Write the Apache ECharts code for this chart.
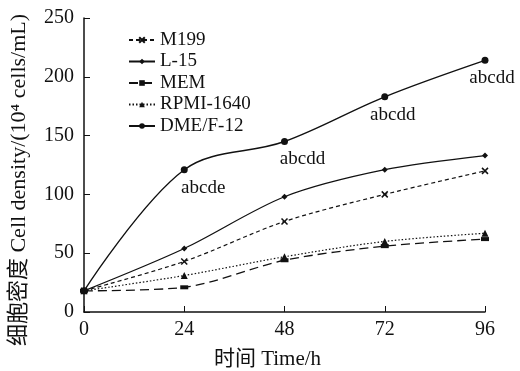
<!DOCTYPE html>
<html>
<head>
<meta charset="utf-8">
<script src="https://cdn.jsdelivr.net/npm/echarts@6/dist/echarts.min.js"></script>
<style>
	html, body { margin: 0; padding: 0; background: #fff; }
	#main { width: 520px; height: 371px; }
</style>
</head>
<body>
<div id="main"></div>
<script>
var hours = [0, 24, 48, 72, 96];
var m199 = [18, 43, 77, 100, 120];
var l15 = [18, 54, 98, 121, 133];
var mem = [18, 21, 44, 56, 62];
var rpmi = [18, 31, 47, 60, 67];
var dme = [18, 121, 145, 183, 214];
var dmeLabels = ['', 'abcde', 'abcdd', 'abcdd', 'abcdd'];

var font = 'Liberation Serif, "Noto Sans CJK SC", serif';
var ink = '#111';

function pairs(ys) {
	var out = [];
	for (var i = 0; i < hours.length; i++) {
		out.push([hours[i], ys[i]]);
	}
	return out;
}

// shift of the letter labels to the right of each point
var labelShift = [0, 19, 18, 8, 7];
var dmeData = [];
for (var i = 0; i < hours.length; i++) {
	dmeData.push({
		value: [hours[i], dme[i]],
		label: {
			show: dmeLabels[i] !== '',
			formatter: dmeLabels[i],
			offset: [labelShift[i], 0]
		}
	});
}

var myChart = echarts.init(document.getElementById('main'));
var option = {
	animation: false,
	textStyle: { fontFamily: font, color: ink },
	grid: { left: 84, right: 35, top: 18, bottom: 59, outerBoundsMode: 'none' },
	legend: {
		orient: 'vertical',
		left: 123,
		top: 25,
		itemWidth: 26,
		itemHeight: 7,
		itemGap: 1.5,
		textStyle: { fontFamily: font, fontSize: 19, color: ink, lineHeight: 20 },
		data: ['M199', 'L-15', 'MEM', 'RPMI-1640', 'DME/F-12']
	},
	xAxis: {
		type: 'value',
		min: 0,
		max: 96,
		interval: 24,
		name: '时间 Time/h',
		nameLocation: 'middle',
		nameGap: 37,
		nameTextStyle: { fontFamily: font, fontSize: 21, color: ink, padding: [0, 34, 0, 0] },
		axisLine: { lineStyle: { color: ink, width: 1.5 } },
		axisTick: { inside: true, length: 6, lineStyle: { color: ink } },
		axisLabel: { fontFamily: font, fontSize: 20, color: ink, margin: 8 },
		splitLine: { show: false }
	},
	yAxis: {
		type: 'value',
		min: 0,
		max: 250,
		interval: 50,
		name: '细胞密度 Cell density/(10⁴ cells/mL)',
		nameLocation: 'middle',
		nameGap: 54,
		nameRotate: 90,
		nameTextStyle: { fontFamily: font, fontSize: 22, color: ink, padding: [0, 30, 0, 0] },
		axisLine: { show: true, lineStyle: { color: ink, width: 1.5 } },
		axisTick: { show: true, inside: true, length: 6, lineStyle: { color: ink } },
		axisLabel: { fontFamily: font, fontSize: 20, color: ink, margin: 10 },
		splitLine: { show: false }
	},
	series: [{
		name: 'M199',
		type: 'line',
		smooth: 0.3,
		data: pairs(m199),
		symbol: 'path://M0,0L10,10M10,0L0,10',
		symbolSize: 6,
		lineStyle: { color: ink, width: 1.2, type: [4, 3] },
		itemStyle: { color: 'none', borderColor: ink, borderWidth: 1.5 }
	}, {
		name: 'L-15',
		type: 'line',
		smooth: 0.3,
		data: pairs(l15),
		symbol: 'diamond',
		symbolSize: 6,
		lineStyle: { color: ink, width: 1.3 },
		itemStyle: { color: ink }
	}, {
		name: 'MEM',
		type: 'line',
		smooth: 0.3,
		data: pairs(mem),
		symbol: 'rect',
		symbolSize: [8, 4],
		lineStyle: { color: ink, width: 1.3, type: [9, 5] },
		itemStyle: { color: ink }
	}, {
		name: 'RPMI-1640',
		type: 'line',
		smooth: 0.3,
		data: pairs(rpmi),
		symbol: 'triangle',
		symbolSize: 7,
		lineStyle: { color: ink, width: 1.2, type: [1.5, 2] },
		itemStyle: { color: ink }
	}, {
		name: 'DME/F-12',
		type: 'line',
		smooth: 0.35,
		data: dmeData,
		symbol: 'circle',
		symbolSize: 7,
		lineStyle: { color: ink, width: 1.4 },
		itemStyle: { color: ink },
		label: {
			position: 'bottom',
			distance: 5,
			fontFamily: font,
			fontSize: 19,
			color: ink
		}
	}]
};
myChart.setOption(option);
</script>
</body>
</html>
